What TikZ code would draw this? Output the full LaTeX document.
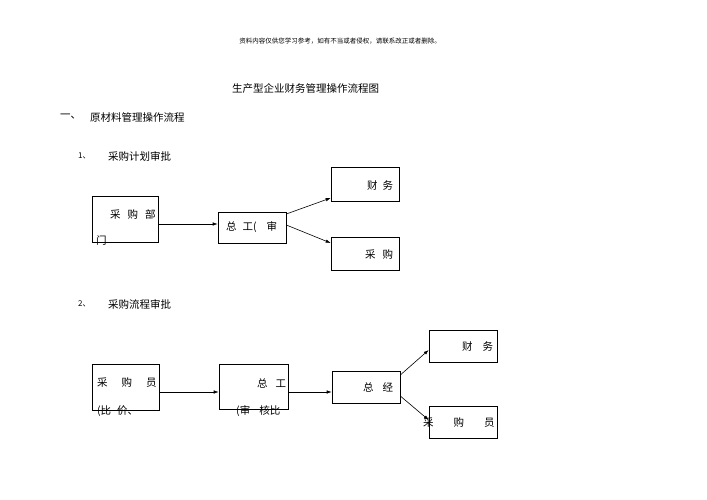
\documentclass[tikz,border=0pt]{standalone}
\usepackage{fontspec}
\setmainfont{Noto Sans CJK SC}
\usetikzlibrary{arrows.meta}

\begin{document}
\begin{tikzpicture}[x=1pt,y=-1pt,
  box/.style={draw,line width=0.6pt,inner sep=0pt},
  txt/.style={anchor=west,inner sep=0pt,font=\fontsize{10.5}{12}\selectfont},
  arr/.style={line width=0.6pt,-{Latex[length=5pt,width=3.5pt]}}]
\useasboundingbox (0,0) rectangle (707,500);
\node[inner sep=0pt,font=\fontsize{6.5}{8}\selectfont] (note) at (340,41) {资料内容仅供您学习参考，如有不当或者侵权，请联系改正或者删除。};
\node[txt] (title) at (232,89) {生产型企业财务管理操作流程图};
\node[txt] (secnum) at (60,117) {一、};
\node[txt] (sec) at (90,117) {原材料管理操作流程};
\node[txt] (num1) at (78,156) {\fontsize{8}{10}\selectfont 1、};
\node[txt] (sub1) at (108,156) {采购计划审批};
\node[txt] (num2) at (78,304) {\fontsize{8}{10}\selectfont 2、};
\node[txt] (sub2) at (108,304) {采购流程审批};

\node[box,minimum width=66pt,minimum height=46pt] (dept) at (125,219) {};
\node[box,minimum width=68pt,minimum height=31pt] (zg) at (252,227.5) {};
\node[box,minimum width=68pt,minimum height=34pt] (cw) at (365,184) {};
\node[box,minimum width=68pt,minimum height=33pt] (cg) at (365,253.5) {};
\node[txt] at (110,214) {采\hspace{7pt}购\hspace{7pt}部};
\node[txt] at (96,241) {门};
\node[txt] at (226,227) {总\hspace{6pt}工(\hspace{10pt}审};
\node[txt] at (367,185) {财\hspace{5pt}务};
\node[txt] at (365,255) {采\hspace{7pt}购};
\draw[arr] ([yshift=-5pt]dept.east) -- ([yshift=-5pt]dept.east -| zg.west);
\draw[arr] ([yshift=13.5pt]zg.east) -- ([yshift=-14pt]cw.west);
\draw[arr] ([yshift=2.5pt]zg.east) -- ([yshift=10.5pt]cg.west);

\node[box,minimum width=67pt,minimum height=46pt] (buyer) at (125.5,387) {};
\node[box,minimum width=69pt,minimum height=45pt] (zg2) at (253.5,386.5) {};
\node[box,minimum width=68pt,minimum height=32pt] (zj) at (366,387) {};
\node[box,minimum width=68pt,minimum height=32pt] (cw2) at (463,346) {};
\node[box,minimum width=68pt,minimum height=32pt] (buyer2) at (463,422) {};
\node[txt] at (97,383) {采\hspace{14pt}购\hspace{14pt}员};
\node[txt] at (97,411) {(比\hspace{6pt}价、};
\node[txt] at (257,383) {总\hspace{8pt}工};
\node[txt] at (236,411) {(审\hspace{9pt}核比};
\node[txt] at (363,387) {总\hspace{9pt}经};
\node[txt] at (462,346) {财\hspace{10pt}务};
\node[txt] at (423,423) {采\hspace{20pt}购\hspace{20pt}员};
\draw[arr] ([yshift=-5pt]buyer.east) -- ([yshift=-5pt]buyer.east -| zg2.west);
\draw[arr] ([yshift=-5.5pt]zg2.east) -- ([yshift=-5.5pt]zg2.east -| zj.west);
\draw[arr] ([yshift=12pt]zj.east) -- ([yshift=-4pt]cw2.west);
\draw[arr] ([yshift=-9pt]zj.east) -- ([yshift=2pt]buyer2.west);
\end{tikzpicture}
\end{document}
